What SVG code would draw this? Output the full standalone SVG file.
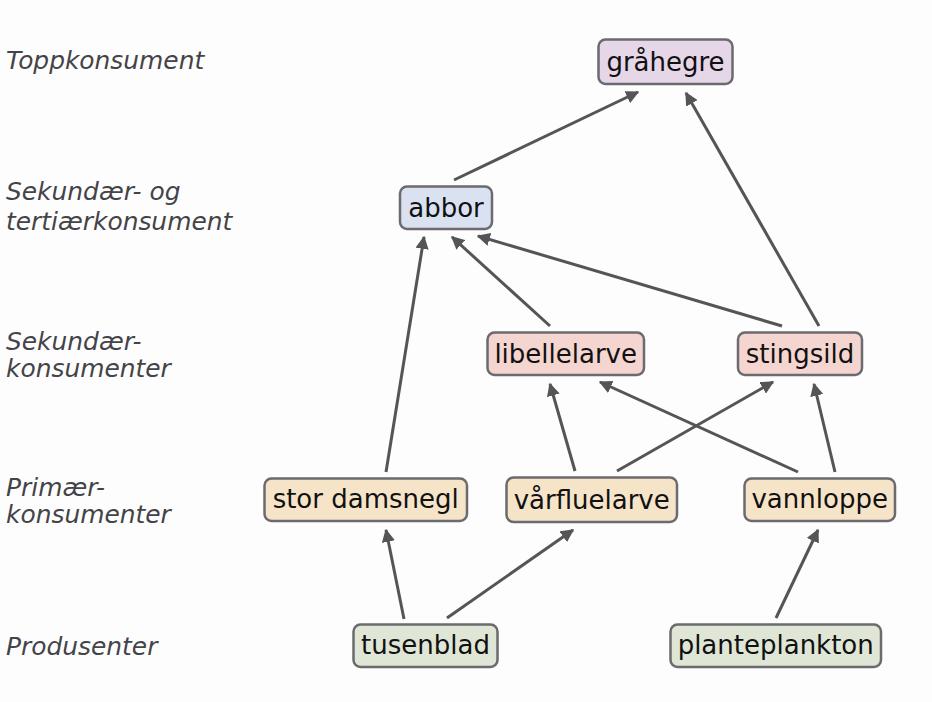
<svg xmlns="http://www.w3.org/2000/svg" width="932" height="702" viewBox="0 0 932 702">
<style>
.lbl{font-family:"DejaVu Sans",sans-serif;font-style:italic;font-size:24.9px;fill:#444448}
.box{stroke:#6b6a6e;stroke-width:2.5}
.t{font-family:"DejaVu Sans",sans-serif;font-size:26px;fill:#111;text-anchor:middle}
.e{stroke:#555457;stroke-width:3;fill:none;marker-end:url(#ah)}
.top{fill:#e6d7e8}.sec{fill:#dae2f2}.mid{fill:#f5d5d0}.pri{fill:#f6e4c9}.pro{fill:#dfe6d5}
</style>
<defs>
<marker id="ah" viewBox="0 0 10 10" refX="9" refY="5" markerWidth="4.4" markerHeight="4.4" orient="auto" markerUnits="strokeWidth">
<path d="M0,0 L10,5 L0,10 z" fill="#555457"/>
</marker>
</defs>
<rect width="932" height="702" fill="#fdfdfe"/>
<g id="levels">
<text class="lbl" x="6" y="69">Toppkonsument</text>
<text class="lbl" x="6" y="200">Sekundær- og</text>
<text class="lbl" x="6" y="230">tertiærkonsument</text>
<text class="lbl" x="6" y="350">Sekundær-</text>
<text class="lbl" x="6" y="377">konsumenter</text>
<text class="lbl" x="6" y="496">Primær-</text>
<text class="lbl" x="6" y="523">konsumenter</text>
<text class="lbl" x="6" y="655">Produsenter</text>
</g>
<g id="connectors">
<line class="e" x1="454" y1="180" x2="638" y2="92"/>
<line class="e" x1="819" y1="326" x2="686" y2="93"/>
<line class="e" x1="386" y1="472" x2="424" y2="237"/>
<line class="e" x1="550" y1="326" x2="452" y2="237"/>
<line class="e" x1="782" y1="326" x2="478" y2="236"/>
<line class="e" x1="575" y1="471" x2="550" y2="384"/>
<line class="e" x1="617" y1="471" x2="773" y2="382"/>
<line class="e" x1="798" y1="472" x2="600" y2="382"/>
<line class="e" x1="835" y1="472" x2="814" y2="384"/>
<line class="e" x1="404" y1="619" x2="386" y2="530"/>
<line class="e" x1="447" y1="618" x2="573" y2="530"/>
<line class="e" x1="776" y1="618" x2="818" y2="530"/>
</g>
<g id="graahegre"><rect class="box top" x="598.5" y="39.5" width="134" height="44.5" rx="7"/><text class="t" x="665.5" y="71">gråhegre</text></g>
<g id="abbor"><rect class="box sec" x="400" y="186.5" width="92" height="42.5" rx="7"/><text class="t" x="446" y="217">abbor</text></g>
<g id="libellelarve"><rect class="box mid" x="487.5" y="332.5" width="156.5" height="42.5" rx="7"/><text class="t" x="565.7" y="363">libellelarve</text></g>
<g id="stingsild"><rect class="box mid" x="738" y="332.5" width="124" height="42.5" rx="7"/><text class="t" x="800" y="363">stingsild</text></g>
<g id="stordamsnegl"><rect class="box pri" x="264.5" y="478.5" width="202.5" height="42.5" rx="7"/><text class="t" x="365.7" y="508">stor damsnegl</text></g>
<g id="vaarfluelarve"><rect class="box pri" x="506.5" y="477.5" width="170.5" height="44.5" rx="7"/><text class="t" x="591.7" y="509">vårfluelarve</text></g>
<g id="vannloppe"><rect class="box pri" x="744.5" y="478.5" width="150.5" height="42.5" rx="7"/><text class="t" x="819.7" y="508">vannloppe</text></g>
<g id="tusenblad"><rect class="box pro" x="353.5" y="624.5" width="144" height="42.5" rx="7"/><text class="t" x="425.5" y="654">tusenblad</text></g>
<g id="planteplankton"><rect class="box pro" x="670.5" y="624.5" width="210.5" height="42.5" rx="7"/><text class="t" x="775.7" y="654">planteplankton</text></g>
</svg>
